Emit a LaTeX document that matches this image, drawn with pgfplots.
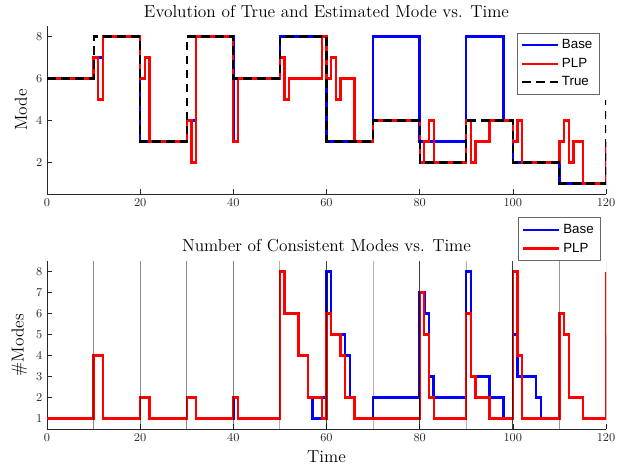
\documentclass[border=0pt]{standalone}
\usepackage{fontspec}
\newfontfamily\legendfont{Liberation Sans}
\usepackage{pgfplots}
\pgfplotsset{compat=1.18}

\definecolor{axgray}{gray}{0.15}

\pgfplotsset{
  modeaxis/.style={
    scale only axis, width=419.25pt, height=126pt,
    xmin=0, xmax=120, ymin=0.5, ymax=8.5,
    xtick={0,20,...,120},
    axis x line*=bottom, axis y line*=left,
    axis line style={axgray, line width=0.5pt, -},
    tick align=inside, tick style={axgray, line width=0.5pt}, major tick length=4pt,
    ticklabel style={font=\small, text=axgray},
    label style={font=\fontsize{13}{15}\selectfont},
    title style={font=\fontsize{13}{15}\selectfont, yshift=-3pt},
    legend cell align=left,
    legend style={font=\legendfont\normalsize, draw=axgray!70, line width=0.5pt,
      inner sep=3pt, row sep=1.5pt},
    legend image code/.code={\draw[#1] (0pt,0pt) -- (27pt,0pt);},
  },
  base/.style={blue, line width=1.8pt, const plot},
  plp/.style={red, line width=1.7pt, const plot},
  vline/.style={black, line width=0.7pt, forget plot},
}

\begin{document}
\begin{tikzpicture}
\path[use as bounding box] (-35.25pt,145.5pt) rectangle (441.75pt,-204.75pt);

% top: estimated modes against the true one
\begin{axis}[modeaxis, at={(0,0)}, anchor=south west,
    ytick={2,4,6,8},
    title={Evolution of True and Estimated Mode vs. Time},
    ylabel={Mode},
    legend style={at={(1,1)}, anchor=north east, xshift=-5pt, yshift=-5pt}]
\addplot[base] coordinates {
  (0,6) (10,7) (12,8) (20,3) (30,4) (32,8) (40,3) (41,6) (50,8) (60,3)
  (70,8) (80,3) (90,8) (98,4) (100,2) (110,1) (120,3)};
\addlegendentry{Base}
\addplot[plp] coordinates {
  (0,6) (10,7) (11,5) (12,8) (20,6) (21,7) (22,3) (30,4) (31,2) (32,8)
  (40,3) (41,6) (50,7) (51,5) (52,6) (59,8) (60,6) (61,7) (62,5) (63,6)
  (66,3) (70,4) (80,2) (81,3) (82,4) (83,2) (90,4) (91,2) (92,3) (95,4)
  (100,3) (101,4) (102,2) (110,3) (111,4) (112,2) (113,3) (115,1) (120,3)};
\addlegendentry{PLP}
\addplot[black, line width=1.6pt, dash pattern=on 6.5pt off 4pt, const plot] coordinates {
  (0,6) (10,8) (20,3) (30,8) (40,6) (50,8) (60,3) (70,4) (80,2) (90,4)
  (100,2) (110,1) (120,5)};
\addlegendentry{True}
\end{axis}

% bottom: number of consistent modes
\begin{axis}[modeaxis, at={(0,-176.25pt)}, anchor=south west,
    ytick={1,...,8},
    title={Number of Consistent Modes vs. Time},
    xlabel={Time}, ylabel={\#Modes},
    legend style={at={(1,1)}, anchor=south east, xshift=-4pt}]
\addplot[base] coordinates {
  (0,1) (10,4) (12,1) (20,2) (22,1) (30,2) (32,1) (40,2) (41,1) (50,8)
  (51,6) (54,4) (56,2) (57,1) (59,2) (60,8) (61,5) (64,4) (65,2) (66,1)
  (70,2) (80,7) (81,6) (82,3) (83,2) (90,8) (91,3) (95,2) (98,1) (100,5)
  (101,3) (105,2) (106,1) (110,6) (111,5) (112,2) (115,1) (120,5)};
\addlegendentry{Base}
\addplot[plp] coordinates {
  (0,1) (10,4) (12,1) (20,2) (22,1) (30,2) (32,1) (40,2) (41,1) (50,8)
  (51,6) (54,4) (56,2) (59,1) (60,6) (61,5) (63,4) (64,2) (66,1) (80,7)
  (81,5) (82,2) (83,1) (90,6) (91,3) (92,2) (95,1) (100,8) (101,4) (102,1)
  (110,6) (111,5) (112,2) (115,1) (120,8)};
\addlegendentry{PLP}
% switch-time markers
\addplot[vline, opacity=0.45] coordinates {(10,0.5) (10,8.5)};
\addplot[vline, opacity=0.45] coordinates {(20,0.5) (20,8.5)};
\addplot[vline, opacity=0.45] coordinates {(30,0.5) (30,8.5)};
\addplot[vline, opacity=0.5] coordinates {(40,0.5) (40,8.5)};
\addplot[vline, opacity=0.3] coordinates {(50,0.5) (50,8.5)};
\addplot[vline, opacity=0.75] coordinates {(60,0.5) (60,8.5)};
\addplot[vline, opacity=0.3] coordinates {(70,0.5) (70,8.5)};
\addplot[vline, opacity=0.75] coordinates {(80,0.5) (80,8.5)};
\addplot[vline, opacity=0.3] coordinates {(90,0.5) (90,8.5)};
\addplot[vline, opacity=0.75] coordinates {(100,0.5) (100,8.5)};
\addplot[vline, opacity=0.4] coordinates {(110,0.5) (110,8.5)};
\addplot[vline, opacity=0.6] coordinates {(120,0.5) (120,8.5)};
\end{axis}
\end{tikzpicture}
\end{document}
